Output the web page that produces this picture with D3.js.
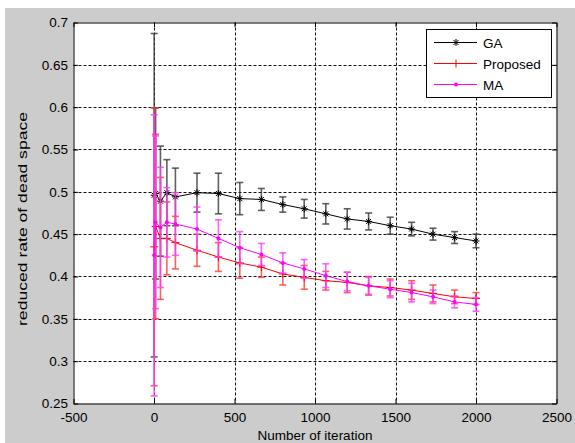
<!DOCTYPE html>
<html>
<head>
<meta charset="utf-8">
<script src="https://cdn.jsdelivr.net/npm/d3@7"></script>
<style>
  body { margin: 0; background: #fff; }
  text { font-family: Arial, "Liberation Sans", sans-serif; fill: #000; }
</style>
</head>
<body>
<svg id="chart" width="575" height="443"></svg>
<script>
// Iteration counts at which each method was sampled
const iterations = [1, 10, 40, 80, 133, 267, 400, 533, 667, 800, 933, 1067, 1200, 1333, 1467, 1600, 1733, 1867, 2000];

// Mean reduced rate of dead space and its error half-width per method
const gaMean = [0.496, 0.498, 0.489, 0.499, 0.494, 0.499, 0.498, 0.492, 0.491, 0.485, 0.480, 0.474, 0.468, 0.465, 0.460, 0.456, 0.450, 0.446, 0.442];
const gaErr  = [0.191, 0.101, 0.065, 0.039, 0.034, 0.023, 0.024, 0.019, 0.013, 0.009, 0.011, 0.012, 0.012, 0.010, 0.010, 0.008, 0.007, 0.007, 0.008];

const proposedMean = [0.435, 0.459, 0.445, 0.445, 0.440, 0.431, 0.423, 0.416, 0.411, 0.403, 0.399, 0.395, 0.393, 0.389, 0.387, 0.384, 0.380, 0.376, 0.374];
const proposedErr  = [0.164, 0.109, 0.072, 0.043, 0.031, 0.019, 0.017, 0.018, 0.012, 0.013, 0.014, 0.011, 0.012, 0.011, 0.010, 0.011, 0.010, 0.008, 0.007];

const maMean = [0.425, 0.464, 0.458, 0.464, 0.462, 0.456, 0.445, 0.434, 0.426, 0.416, 0.409, 0.401, 0.394, 0.389, 0.385, 0.381, 0.376, 0.370, 0.367];
const maErr  = [0.166, 0.102, 0.071, 0.041, 0.037, 0.026, 0.022, 0.019, 0.013, 0.012, 0.011, 0.014, 0.011, 0.010, 0.010, 0.011, 0.008, 0.007, 0.008];

const seriesNames = ["GA", "Proposed", "MA"];

// Axis ticks
const xTicks = [-500, 0, 500, 1000, 1500, 2000, 2500];
const xTickLabels = ["-500", "0", "500", "1000", "1500", "2000", "2500"];
const yTicks = [0.25, 0.3, 0.35, 0.4, 0.45, 0.5, 0.55, 0.6, 0.65, 0.7];
const yTickLabels = ["0.25", "0.3", "0.35", "0.4", "0.45", "0.5", "0.55", "0.6", "0.65", "0.7"];

const xLabel = "Number of iteration";
const yLabel = "reduced rate of dead space";

const series = [
  { name: seriesNames[0], mean: gaMean, err: gaErr, color: "#000000", barColor: "#3a3a3a", marker: "star" },
  { name: seriesNames[1], mean: proposedMean, err: proposedErr, color: "#ff0000", barColor: "#ff3a3a", marker: "plus" },
  { name: seriesNames[2], mean: maMean, err: maErr, color: "#ff00ff", barColor: "#ff3aff", marker: "dot" }
];

const svg = d3.select("#chart");

// Figure background
svg.append("rect").attr("x", 5).attr("y", 8).attr("width", 570).attr("height", 435).attr("fill", "#cccccc");

const L = 73.5, R = 556.5, T = 22.5, B = 403.5;
const x = d3.scaleLinear().domain([-500, 2500]).range([L, R]);
const y = d3.scaleLinear().domain([0.25, 0.7]).range([B, T]);

// Axes area
svg.append("rect").attr("x", L).attr("y", T).attr("width", R - L).attr("height", B - T).attr("fill", "#fff");

// Dotted grid
const grid = svg.append("g").attr("stroke", "#111").attr("stroke-width", 1).attr("stroke-dasharray", "3,2");
grid.selectAll("line.gx").data(xTicks.slice(1, -1)).join("line")
  .attr("x1", d => Math.round(x(d)) + 0.5).attr("x2", d => Math.round(x(d)) + 0.5)
  .attr("y1", T).attr("y2", B);
grid.selectAll("line.gy").data(yTicks.slice(1, -1)).join("line")
  .attr("x1", L).attr("x2", R)
  .attr("y1", d => Math.round(y(d)) + 0.5).attr("y2", d => Math.round(y(d)) + 0.5);

// Error bars, lines and markers
const capW = 3.5;
const line = d3.line().x((d, i) => x(iterations[i])).y(d => y(d));

series.forEach(s => {
  const g = svg.append("g");
  const bars = g.append("g").attr("stroke", s.barColor).attr("stroke-width", 1.6).attr("stroke-opacity", 0.8);
  iterations.forEach((it, i) => {
    const cx = x(it), lo = y(s.mean[i] - s.err[i]), hi = y(s.mean[i] + s.err[i]);
    bars.append("line").attr("x1", cx).attr("x2", cx).attr("y1", lo).attr("y2", hi);
    bars.append("line").attr("x1", cx - capW).attr("x2", cx + capW).attr("y1", lo).attr("y2", lo);
    bars.append("line").attr("x1", cx - capW).attr("x2", cx + capW).attr("y1", hi).attr("y2", hi);
  });
  g.append("path").datum(s.mean).attr("d", line).attr("fill", "none").attr("stroke", s.color).attr("stroke-width", 1);
  iterations.forEach((it, i) => drawMarker(g, s, x(it), y(s.mean[i])));
});

function drawMarker(g, s, cx, cy) {
  if (s.marker === "star") {
    const r = 3.5, d = 2.5;
    const p = `M${cx - r},${cy}H${cx + r}M${cx},${cy - r}V${cy + r}M${cx - d},${cy - d}L${cx + d},${cy + d}M${cx - d},${cy + d}L${cx + d},${cy - d}`;
    g.append("path").attr("d", p).attr("stroke", s.color).attr("stroke-width", 1).attr("fill", "none");
  } else if (s.marker === "plus") {
    const r = 4;
    g.append("path").attr("d", `M${cx - r},${cy}H${cx + r}M${cx},${cy - r}V${cy + r}`)
      .attr("stroke", s.color).attr("stroke-width", 1).attr("fill", "none");
  } else {
    g.append("circle").attr("cx", cx).attr("cy", cy).attr("r", 2).attr("fill", s.color);
  }
}

// Axes with inward ticks on all four sides
const tickLen = 4.5;
const axB = svg.append("g").attr("transform", `translate(0,${B})`)
  .call(d3.axisBottom(x).tickValues(xTicks).tickSizeInner(-tickLen).tickSizeOuter(0).tickPadding(8.5)
    .tickFormat((d, i) => xTickLabels[i]));
const axT = svg.append("g").attr("transform", `translate(0,${T})`)
  .call(d3.axisTop(x).tickValues(xTicks).tickSizeInner(-tickLen).tickSizeOuter(0).tickFormat(""));
const axL = svg.append("g").attr("transform", `translate(${L},0)`)
  .call(d3.axisLeft(y).tickValues(yTicks).tickSizeInner(-tickLen).tickSizeOuter(0).tickPadding(5.5)
    .tickFormat((d, i) => yTickLabels[i]));
const axR = svg.append("g").attr("transform", `translate(${R},0)`)
  .call(d3.axisRight(y).tickValues(yTicks).tickSizeInner(-tickLen).tickSizeOuter(0).tickFormat(""));

[axB, axT, axL, axR].forEach(a => {
  a.selectAll("text").attr("font-size", 13.5).attr("font-family", "Arial, 'Liberation Sans', sans-serif").attr("fill", "#000");
  a.selectAll("path.domain").attr("stroke", "#000").attr("stroke-width", 1);
  a.selectAll(".tick line").attr("stroke", "#000");
});

// Axis titles
svg.append("text").attr("x", (L + R) / 2).attr("y", 439.5).attr("text-anchor", "middle")
  .attr("font-size", 13.5).text(xLabel);
svg.append("text").attr("transform", "translate(27,219) rotate(-90)").attr("text-anchor", "middle")
  .attr("font-size", 13.5).attr("textLength", 214).attr("lengthAdjust", "spacingAndGlyphs").text(yLabel);

// Legend
const lg = svg.append("g");
lg.append("rect").attr("x", 426.5).attr("y", 29.5).attr("width", 125).attr("height", 68)
  .attr("fill", "#fff").attr("stroke", "#000").attr("stroke-width", 1);
const rows = [42.5, 63.5, 84.5];
series.forEach((s, i) => {
  lg.append("line").attr("x1", 434).attr("x2", 477).attr("y1", rows[i]).attr("y2", rows[i])
    .attr("stroke", s.color).attr("stroke-width", 1);
  drawMarker(lg, s, 456, rows[i]);
  lg.append("text").attr("x", 483).attr("y", rows[i] + 5).attr("font-size", 13.5).text(s.name);
});
</script>
</body>
</html>
